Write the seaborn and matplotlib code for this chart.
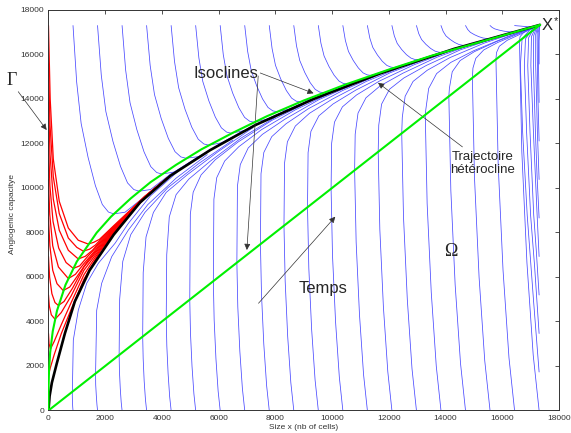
import numpy as np
import pandas as pd
import matplotlib
matplotlib.use('Agg')
import matplotlib.pyplot as plt
import seaborn as sns

# --- trajectories starting on the top edge (y = 17300) ---
top_x = [
    [865, 994, 1152, 1396, 1654, 1898, 2113, 2300, 2700, 3300, 4300],
    [1730, 1862, 2024, 2274, 2539, 2788, 3009, 3200, 3600, 4300, 5300],
    [2595, 2721, 2876, 3115, 3368, 3607, 3817, 4000, 4450, 5200, 6300],
    [3460, 3585, 3738, 3974, 4225, 4461, 4669, 4850, 5300, 6100, 7300],
    [4325, 4444, 4590, 4815, 5054, 5279, 5478, 5650, 6100, 6900, 8200],
    [5190, 5303, 5442, 5656, 5883, 6097, 6286, 6450, 6900, 7700, 9000],
    [6055, 6163, 6294, 6497, 6712, 6915, 7095, 7250, 7700, 8500, 9800],
    [6920, 7023, 7148, 7342, 7547, 7741, 7912, 8060, 8500, 9300, 10600],
    [7785, 7884, 8004, 8190, 8387, 8573, 8738, 8880, 9300, 10100, 11400],
    [8650, 8745, 8860, 9039, 9228, 9406, 9564, 9700, 10100, 10900, 12200],
    [9515, 9606, 9718, 9891, 10073, 10246, 10398, 10530, 10900, 11700, 13000],
    [10380, 10469, 10578, 10746, 10925, 11093, 11241, 11370, 11700, 12500, 13800],
    [11245, 11331, 11436, 11598, 11770, 11933, 12076, 12200, 12550, 13300, 14500],
    [12110, 12194, 12296, 12454, 12622, 12780, 12919, 13040, 13400, 14100, 15300],
    [12975, 13056, 13156, 13310, 13473, 13627, 13762, 13880, 14200, 14900, 16000],
    [13840, 13919, 14016, 14166, 14324, 14474, 14606, 14720, 15000, 15700, 16600],
    [14705, 14782, 14876, 15021, 15175, 15321, 15449, 15560, 15850, 16500, 17330],
    [15570, 15645, 15736, 15877, 16027, 16168, 16292, 16400, 16700, 17330],
    [16435, 16486, 16550, 16650, 16760, 16870, 17000, 17330],
]
top_y = [
    [17300, 14760, 12898, 11376, 10105, 9258, 8919, 8835, 8910, 9520, 10600],
    [17300, 15067, 13429, 12089, 10972, 10227, 9929, 9855, 9930, 10620, 11400],
    [17300, 15298, 13830, 12628, 11627, 10960, 10693, 10626, 10720, 11330, 12150],
    [17300, 15510, 14198, 13125, 12230, 11633, 11395, 11335, 11410, 12010, 12850],
    [17300, 15687, 14504, 13537, 12730, 12193, 11978, 11924, 12030, 12580, 13370],
    [17300, 15848, 14783, 13912, 13186, 12702, 12508, 12460, 12580, 13090, 13820],
    [17300, 15997, 15041, 14258, 13607, 13172, 12998, 12955, 13090, 13540, 14240],
    [17300, 16138, 15285, 14588, 14006, 13619, 13464, 13425, 13545, 14000, 14630],
    [17300, 16270, 15514, 14896, 14381, 14038, 13900, 13866, 14010, 14390, 15020],
    [17300, 16394, 15730, 15186, 14733, 14431, 14310, 14280, 14390, 14780, 15380],
    [17300, 16511, 15932, 15459, 15066, 14802, 14696, 14670, 14780, 15170, 15720],
    [17300, 16628, 16135, 15732, 15396, 15172, 15082, 15060, 15170, 15510, 16055],
    [17300, 16734, 16318, 15978, 15695, 15506, 15431, 15412, 15530, 15850, 16340],
    [17300, 16838, 16499, 16222, 15991, 15837, 15775, 15760, 15890, 16180, 16620],
    [17300, 16937, 16671, 16453, 16272, 16151, 16102, 16090, 16215, 16475, 16865],
    [17300, 17031, 16834, 16672, 16538, 16448, 16412, 16403, 16505, 16755, 17075],
    [17300, 17123, 16994, 16888, 16800, 16741, 16717, 16711, 16808, 17040, 17330],
    [17300, 17214, 17150, 17098, 17055, 17026, 17015, 17012, 17110, 17330],
    [17300, 17292, 17285, 17275, 17262, 17250, 17235, 17330],
]

# --- trajectories starting on the bottom edge (y = 0) ---
bottom_x = [
    [865, 855, 845, 840, 876, 1053, 1348, 1758, 2347, 2818, 3600, 4600],
    [1730, 1710, 1687, 1665, 1661, 1700, 1876, 2230, 2818, 3500, 4500, 5600],
    [2595, 2564, 2531, 2503, 2491, 2510, 2620, 2900, 3400, 4200, 5300, 6500],
    [3460, 3419, 3374, 3339, 3322, 3340, 3440, 3700, 4150, 4900, 6000, 7200],
    [4325, 4273, 4218, 4173, 4152, 4170, 4260, 4500, 4950, 5700, 6800, 8000],
    [5190, 5128, 5061, 5007, 4982, 5002, 5102, 5382, 5882, 6682, 7882, 8982],
    [6055, 5982, 5905, 5842, 5813, 5833, 5933, 6213, 6713, 7513, 8713, 9813],
    [6920, 6837, 6748, 6676, 6643, 6663, 6763, 7043, 7543, 8343, 9543, 10643],
    [7785, 7692, 7592, 7511, 7474, 7494, 7594, 7874, 8374, 9174, 10374, 11474],
    [8650, 8546, 8435, 8346, 8304, 8324, 8424, 8704, 9204, 10004, 11204, 12304],
    [9515, 9401, 9279, 9180, 9134, 9154, 9254, 9534, 10034, 10834, 12034, 13134],
    [10380, 10256, 10123, 10015, 9965, 9985, 10085, 10365, 10865, 11665, 12865, 13965],
    [11245, 11110, 10966, 10849, 10795, 10815, 10915, 11195, 11695, 12495, 13695, 14795],
    [12110, 11965, 11810, 11684, 11626, 11646, 11746, 12026, 12526, 13326, 14526, 15626],
    [12975, 12819, 12653, 12518, 12456, 12476, 12576, 12856, 13356, 14156, 15356, 16456],
    [13840, 13674, 13497, 13352, 13286, 13306, 13406, 13686, 14186, 14986, 16186, 17330],
    [14705, 14529, 14340, 14188, 14117, 14137, 14237, 14517, 15017, 15817, 17330],
    [15570, 15383, 15184, 15022, 14947, 14967, 15067, 15347, 15847, 16647, 17330],
    [16435, 16238, 16028, 15857, 15778, 15798, 15898, 16178, 16678, 17330],
    [17300, 17092, 16871, 16691, 16608, 16628, 16750, 17000, 17330],
]
bottom_y = [
    [0, 150, 400, 700, 3168, 4516, 5716, 6615, 7514, 8413, 9650, 10780],
    [0, 250, 660, 1160, 1661, 4500, 5716, 6913, 8112, 9250, 10440, 11500],
    [0, 374, 996, 1744, 2491, 5000, 6700, 7900, 8900, 10000, 11100, 12150],
    [0, 498, 1329, 2325, 3322, 6200, 7800, 8900, 9800, 10600, 11650, 12700],
    [0, 623, 1661, 2906, 4152, 7000, 8700, 9700, 10400, 11200, 12250, 13180],
    [0, 747, 1993, 3487, 4982, 8826, 9808, 10588, 11268, 12063, 13042, 13750],
    [0, 872, 2325, 4069, 5813, 9494, 10464, 11212, 11855, 12622, 13517, 14186],
    [0, 996, 2657, 4650, 6643, 10080, 11050, 11799, 12409, 13096, 13974, 14592],
    [0, 1121, 2990, 5232, 7474, 10641, 11598, 12308, 12883, 13570, 14381, 14999],
    [0, 1246, 3322, 5813, 8304, 11115, 12072, 12782, 13357, 13990, 14787, 15365],
    [0, 1370, 3654, 6394, 9134, 11588, 12545, 13240, 13774, 14396, 15171, 15717],
    [0, 1495, 3986, 6976, 9965, 12011, 12959, 13646, 14181, 14802, 15523, 16068],
    [0, 1619, 4318, 7557, 10795, 12416, 13365, 14052, 14587, 15156, 15874, 16386],
    [0, 1744, 4650, 8138, 11626, 12824, 13769, 14438, 14939, 15508, 16210, 16682],
    [0, 1868, 4982, 8719, 12456, 13178, 14121, 14789, 15290, 15859, 16506, 16978],
    [0, 1993, 5314, 9300, 13286, 13529, 14472, 15140, 15642, 16164, 16801, 17330],
    [0, 2118, 5647, 9882, 14117, 14481, 15223, 15727, 16125, 16590, 17330],
    [0, 2242, 5979, 10463, 14947, 15387, 15823, 16203, 16541, 16965, 17330],
    [0, 2367, 6311, 11045, 15778, 16083, 16369, 16638, 16936, 17330],
    [0, 2491, 6643, 11626, 16608, 16800, 16980, 17170, 17330],
]

# --- trajectories starting on the right edge (x = 17300) ---
edge_x = [
    [17300, 17100, 16880, 16720, 16640, 16700, 17000, 17330],
    [17300, 17140, 17000, 16860, 16780, 16820, 17080, 17330],
    [17300, 17200, 17110, 16980, 16900, 16930, 17130, 17330],
    [17300, 17230, 17100, 17010, 17030, 17180, 17330],
    [17300, 17230, 17170, 17100, 17110, 17220, 17330],
    [17300, 17240, 17180, 17180, 17250, 17330],
    [17300, 17260, 17240, 17230, 17280, 17330],
    [17300, 17280, 17270, 17330],
    [17300, 17300, 17320, 17330],
]
edge_y = [
    [1730, 5000, 8786, 12500, 15500, 16700, 17150, 17330],
    [3460, 6500, 8786, 12500, 15500, 16700, 17180, 17330],
    [5190, 7200, 8786, 12500, 15500, 16750, 17200, 17330],
    [6920, 8786, 12500, 15500, 16800, 17220, 17330],
    [8650, 10500, 12500, 15500, 16850, 17240, 17330],
    [10380, 12500, 15500, 16900, 17260, 17330],
    [12110, 14000, 15500, 16950, 17280, 17330],
    [13840, 15500, 17000, 17330],
    [15570, 16600, 17200, 17330],
]

# --- Gamma: trajectories starting on the left edge (red) ---
red_x = [
    [0, 15, 60, 200, 450, 800, 1250, 1800, 2300, 2800, 3400, 4200],
    [0, 20, 70, 200, 450, 800, 1250, 1800, 2300, 2800, 3400, 4200],
    [0, 30, 100, 230, 450, 800, 1250, 1800, 2300, 2800, 3400, 4200],
    [0, 40, 120, 230, 350, 550, 850, 1250, 1800, 2300, 2800, 3400, 4200],
    [0, 50, 150, 300, 520, 750, 1050, 1400, 1800, 2300, 2800, 3400, 4200],
    [0, 45, 150, 350, 700, 950, 1250, 1550, 1800, 2300, 2800, 3400, 4200],
    [0, 50, 160, 360, 620, 875, 1100, 1400, 1800, 2300, 2800, 3400, 4200],
    [0, 55, 170, 380, 700, 1050, 1300, 1550, 1800, 2300, 2800, 3400, 4200],
    [0, 55, 170, 380, 700, 1000, 1230, 1450, 1650, 1800, 2300, 2800, 3400, 4200],
    [0, 60, 170, 380, 700, 1050, 1400, 1600, 1800, 2300, 2800, 3400, 4200],
]
red_y = [
    [1730, 1660, 1900, 2500, 3450, 4550, 5900, 7108, 7983, 8725, 9559, 10443],
    [3460, 3000, 2760, 3100, 3850, 4850, 6100, 7173, 8018, 8745, 9567, 10444],
    [5190, 4700, 4300, 4100, 4400, 5150, 6300, 7238, 8054, 8764, 9575, 10446],
    [6920, 6000, 5250, 4850, 4720, 4900, 5500, 6450, 7303, 8090, 8784, 9582, 10448],
    [8650, 7400, 6300, 5700, 5390, 5550, 6100, 6750, 7368, 8126, 8803, 9590, 10450],
    [10380, 8800, 7400, 6450, 5930, 6120, 6600, 7050, 7433, 8161, 8823, 9598, 10452],
    [12110, 10100, 8500, 7300, 6650, 6385, 6500, 6950, 7498, 8197, 8842, 9606, 10454],
    [13840, 11500, 9500, 8100, 7200, 6810, 6930, 7200, 7563, 8233, 8862, 9614, 10456],
    [15570, 12800, 10500, 8850, 7750, 7330, 7160, 7250, 7430, 7628, 8269, 8881, 9621, 10458],
    [17300, 14000, 11300, 9400, 8200, 7650, 7480, 7560, 7693, 8304, 8901, 9629, 10460],
]

# heteroclinic trajectory (black) and the two isoclines (green)
het_x = [0, 40, 120, 290, 580, 930, 1450, 2300, 3230, 4300, 5700, 7300, 9350, 11700, 14300, 17330]
het_y = [0, 650, 1250, 2100, 3470, 4900, 6300, 7900, 9350, 10550, 11700, 12830, 14000, 15150, 16250, 17330]
iso_x = [0, 5, 20, 60, 150, 300, 600, 1000, 1700, 2200, 2900, 3600, 4500, 5400, 6500,
         7700, 9000, 10500, 12000, 13500, 15000, 17330]
iso_y = [0, 1145, 1817, 2612, 3557, 4483, 5646, 6695, 7990, 8704, 9530, 10262, 11040, 11742,
         12480, 13223, 13930, 14662, 15320, 15941, 16480, 17330]
diag_x = [0, 17330]
diag_y = [0, 17330]

ticks = list(range(0, 18001, 2000))


def to_frame(xs, ys, name):
    rows = []
    for i, (cx, cy) in enumerate(zip(xs, ys)):
        for a, b in zip(cx, cy):
            rows.append((f'{name}{i}', a, b))
    return pd.DataFrame(rows, columns=['curve', 'x', 'y'])


def draw(ax, df, color, lw, z):
    sns.lineplot(data=df, x='x', y='y', units='curve', estimator=None, sort=False,
                 color=color, lw=lw, ax=ax, legend=False, zorder=z)


sns.set_theme(style='white')
plt.rcParams['font.family'] = ['Liberation Sans', 'DejaVu Sans']

fig = plt.figure(figsize=(5.71, 4.33), dpi=100)
ax = fig.add_axes([0.0849, 0.052, 0.894, 0.925])

blue = pd.concat([to_frame(top_x, top_y, 't'),
                  to_frame(bottom_x, bottom_y, 'b'),
                  to_frame(edge_x, edge_y, 'e')])
draw(ax, blue, '#4848ff', 0.55, 1)
draw(ax, to_frame(red_x, red_y, 'r'), '#ff0000', 0.9, 2)
draw(ax, to_frame([het_x], [het_y], 'h'), 'black', 1.9, 3)
draw(ax, to_frame([iso_x, diag_x], [iso_y, diag_y], 'g'), '#00f000', 1.5, 4)

ax.set_xlim(0, 18000)
ax.set_ylim(0, 18000)
ax.set_xticks(ticks)
ax.set_yticks(ticks)
ax.set_xticklabels([str(t) for t in ticks])
ax.set_yticklabels([str(t) for t in ticks])
ax.tick_params(direction='in', length=3, width=0.6, colors='#333333', labelsize=6,
               top=True, right=True, pad=3)
for s in ax.spines.values():
    s.set_color('#333333')
    s.set_linewidth(0.7)

ax.set_xlabel('Size x (nb of cells)', fontsize=6, color='#333333')
ax.set_ylabel('Angiogenic capacitye', fontsize=6, color='#333333')
ax.xaxis.set_label_coords(0.5, -0.033)
ax.yaxis.set_label_coords(-0.064, 0.49)

# annotations
arrow = dict(arrowstyle='-|>', color='#333333', lw=0.5, mutation_scale=9, shrinkA=0, shrinkB=0)
ax.text(6248, 15154, 'Isoclines', fontsize=12, ha='center', va='center')
ax.annotate('', xy=(9347, 14255), xytext=(7466, 15168), arrowprops=arrow)
ax.annotate('', xy=(6996, 7213), xytext=(7395, 15033), arrowprops=arrow)

ax.text(15303, 11100, 'Trajectoire\nhétérocline', fontsize=9.5, ha='center', va='center',
        linespacing=1.15)
ax.annotate('', xy=(11620, 14730), xytext=(14597, 11846), arrowprops=arrow)

ax.text(9690, 5460, 'Temps', fontsize=12, ha='center', va='center')
ax.annotate('', xy=(10113, 8709), xytext=(7406, 4818), arrowprops=arrow)

ax.text(14191, 7145, 'Ω', fontsize=13, ha='center', va='center', family='Liberation Serif')
ax.text(-1288, 14808, 'Γ', fontsize=13, ha='center', va='center', family='Liberation Serif',
        clip_on=False)
ax.annotate('', xy=(-64, 12606), xytext=(-1066, 14327), arrowprops=arrow,
            annotation_clip=False)

ax.text(17597, 17280, 'X', fontsize=12, ha='center', va='center', clip_on=False)
ax.text(17880, 17520, '*', fontsize=8, ha='center', va='center', clip_on=False)

fig.savefig('out.png', dpi=100)
